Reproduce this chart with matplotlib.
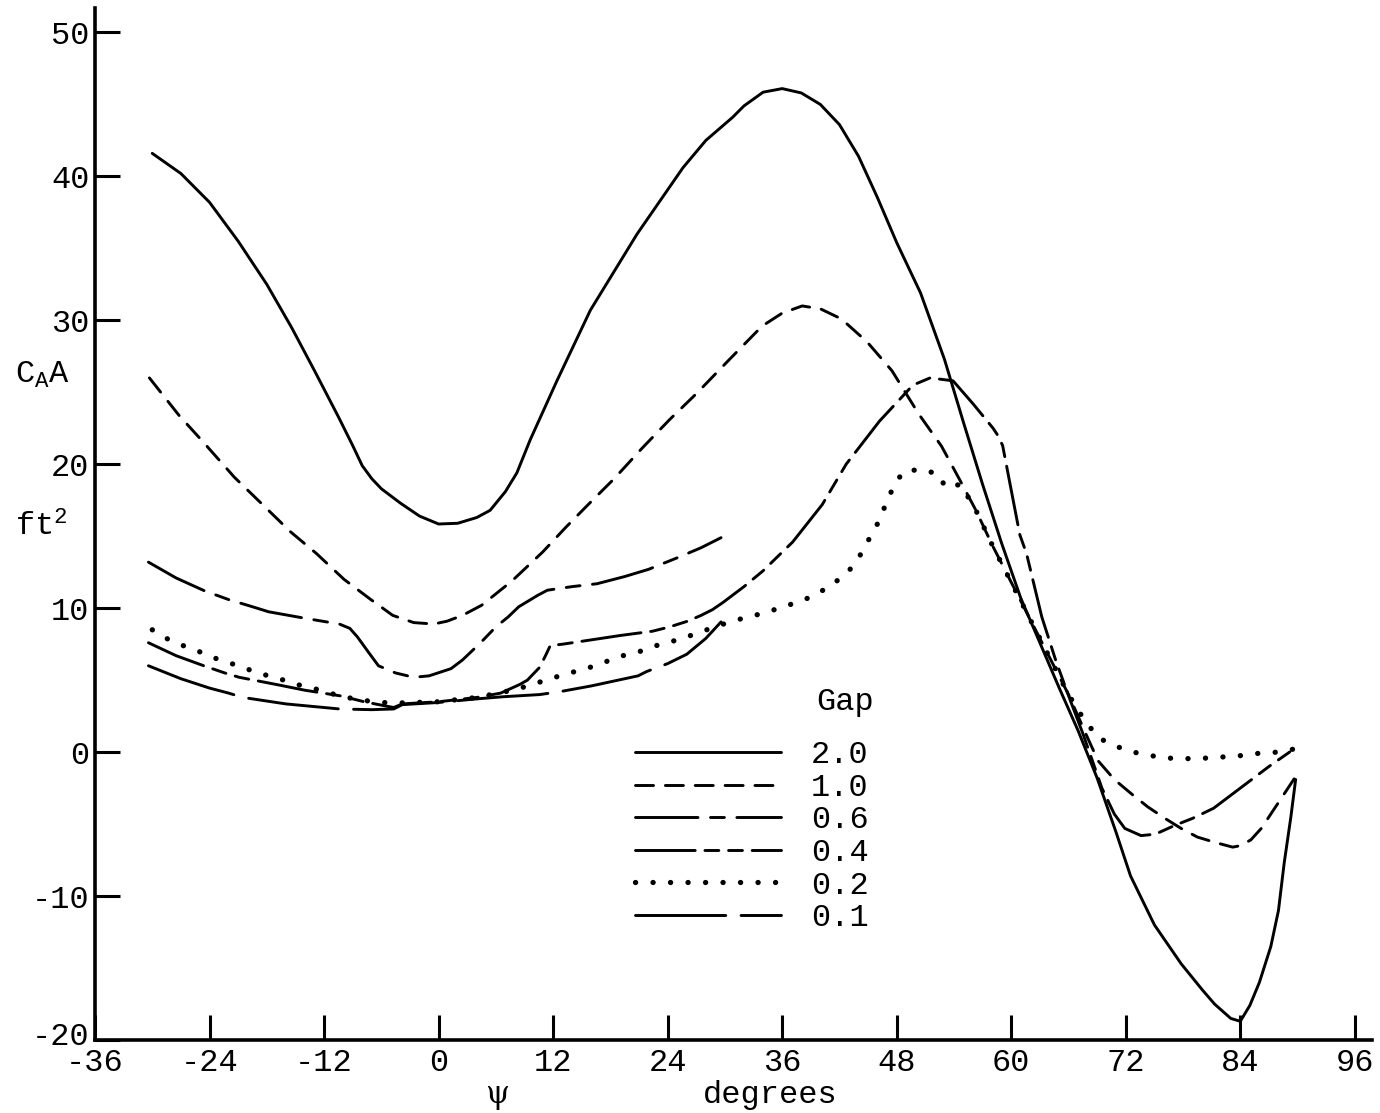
import matplotlib
matplotlib.use("Agg")
import matplotlib.pyplot as plt
from matplotlib.transforms import ScaledTranslation

matplotlib.rcParams.update({'font.size': 23,
                            'font.family': 'Liberation Mono',
                            'axes.unicode_minus': False,
                            'lines.scale_dashes': False,
                            'mathtext.fontset': 'custom',
                            'mathtext.tt': 'Liberation Mono',
                            'mathtext.rm': 'Liberation Mono'})

# -----------------------------------------------------------#
# Data (psi in degrees, CA*A in ft^2)
# -----------------------------------------------------------#
psi_20 = [-30, -27, -24, -21, -18, -15.4, -13, -10.5, -9, -8, -7, -6, -5, -4, -2, 0, 2, 4, 5.4, 7,
          8.2, 9.6, 12.4, 15.9, 20.8, 25.6, 28, 30.8, 32, 34, 36, 38, 40, 42, 44, 46, 48, 50.5, 53,
          55, 57, 59, 61, 63, 65, 67, 69, 71, 72.5, 75, 77.8, 80, 81.3, 83, 84, 85, 86, 87.2, 88,
          88.6, 89.3, 89.8]
ca_20 = [41.6, 40.2, 38.2, 35.5, 32.5, 29.5, 26.5, 23.3, 21.3, 19.9, 19.0, 18.3, 17.8, 17.3, 16.4,
         15.85, 15.9, 16.3, 16.8, 18.1, 19.4, 21.7, 25.8, 30.7, 36.0, 40.6, 42.5, 44.1, 44.9, 45.85,
         46.1, 45.8, 45.0, 43.6, 41.4, 38.5, 35.4, 31.9, 27.3, 22.9, 18.6, 14.5, 10.7, 7.6, 4.5,
         1.5, -1.8, -5.6, -8.6, -12.0, -14.7, -16.5, -17.5, -18.5, -18.7, -17.6, -16.0, -13.5,
         -11.0, -7.7, -4.5, -1.9]

psi_10 = [-30.3, -27.2, -24.6, -21.4, -18.6, -15.5, -12.8, -9.9, -7.1, -4.8, -2.6, -0.5, 0.9, 2.5,
          4.5, 7.7, 10.9, 13.3, 15.6, 18.4, 21.3, 24.2, 27.0, 30.5, 33.9, 36, 38.1, 40, 42.2, 44.9,
          47.5, 50.3, 52.7, 54.7, 56.3, 58, 60, 62, 64, 66, 68, 69.1, 70.8, 72.6, 74.3, 76.1, 77.8,
          79.5, 81.5, 83.2, 84, 85.1, 86.2, 87.2, 88.5, 89.8]
ca_10 = [26.0, 23.4, 21.5, 19.1, 17.3, 15.3, 13.8, 12.0, 10.6, 9.5, 9.0, 8.9, 9.1, 9.5, 10.2, 11.9,
         13.9, 15.6, 17.15, 19.0, 21.1, 23.1, 24.9, 27.3, 29.6, 30.5, 31.0, 30.8, 30.1, 28.5, 26.5,
         23.5, 21.25, 18.8, 16.8, 14.4, 11.8, 9.2, 6.6, 4.0, 1.0, -0.6, -1.9, -2.9, -3.8, -4.6,
         -5.3, -5.9, -6.3, -6.6, -6.5, -6.1, -5.3, -4.3, -3.0, -1.7]

psi_06 = [-30.4, -27.5, -24.5, -22, -19.5, -17.8, -14, -10.4, -9.3, -8.5, -7.3, -6.3, -4.5, -2.6,
          -1, 1.3, 2.5, 4.4, 6, 7.3, 8.4, 10.4, 11.4, 14, 16.6, 19.5, 22, 25, 27.5, 29.6]
ca_06 = [13.2, 12.1, 11.2, 10.6, 10.1, 9.75, 9.3, 8.9, 8.6, 8.0, 6.9, 6.0, 5.5, 5.2, 5.3, 5.8, 6.4,
         7.6, 8.7, 9.4, 10.1, 10.9, 11.25, 11.5, 11.7, 12.2, 12.7, 13.5, 14.2, 14.9]

psi_04 = [-30.4, -27.5, -24.6, -22.4, -20.9, -17, -14, -10.2, -7.8, -5.5, -4.7, -3.8, 0, 4, 6.5,
          7.5, 8.5, 9.3, 10.6, 11.2, 11.7, 13, 16, 19, 22.4, 24.2, 26.1, 27.5, 28.7, 29.8, 32, 34,
          35.7, 37.1, 40.2, 42.7, 46.2, 49.7, 51.5, 53.9, 56, 58.1, 58.6, 59.1, 60.9, 61.6, 63.2,
          64.7, 66.3, 67.5, 68.4, 69.5, 70.8, 71.9, 73.6, 75.1, 77.1, 79, 81.2, 84, 87, 89.8]
ca_04 = [7.6, 6.7, 6.0, 5.5, 5.2, 4.7, 4.3, 3.9, 3.5, 3.2, 3.1, 3.35, 3.5, 3.8, 4.1, 4.4, 4.7, 5.0,
         5.9, 6.7, 7.4, 7.5, 7.8, 8.1, 8.4, 8.7, 9.1, 9.5, 9.9, 10.4, 11.5, 12.6, 13.7, 14.6, 17.2,
         20.0, 23.0, 25.5, 26.0, 25.8, 24.2, 22.5, 22.0, 21.3, 15.1, 13.8, 9.4, 6.3, 3.4, 1.3,
         -0.4, -2.5, -4.3, -5.3, -5.8, -5.7, -5.1, -4.6, -3.9, -2.5, -1.0, 0.3]

psi_02 = [-30, -28.8, -27.6, -25.5, -23.3, -21, -18.9, -16.7, -14.3, -12.3, -10.4, -8, -5, 0, 4, 7,
          9.4, 11.2, 12.7, 14.3, 15.9, 17.6, 19.3, 21.1, 22.8, 24.5, 26.4, 28.1, 30.3, 31.9, 33.7,
          35.7, 37.5, 39.1, 41.2, 43, 44.1, 45.1, 46.1, 46.9, 47.7, 48.7, 50.6, 52.4, 53.1, 54.7,
          56.3, 58, 60, 62, 64, 66, 67.5, 69.1, 71, 72.8, 75.9, 77.8, 79.7, 81.6, 83.4, 85.6, 87.9,
          89.5]
ca_02 = [8.5, 8.0, 7.6, 7.1, 6.5, 6.0, 5.5, 5.1, 4.6, 4.3, 3.9, 3.6, 3.4, 3.5, 3.8, 4.2, 4.6, 5.0,
         5.3, 5.6, 5.9, 6.3, 6.7, 7.0, 7.4, 7.7, 8.1, 8.5, 9.0, 9.3, 9.6, 10.0, 10.4, 10.8, 11.6,
         12.6, 13.6, 14.8, 16.0, 17.3, 18.5, 19.5, 19.65, 19.3, 18.4, 18.6, 16.8, 14.4, 11.8, 9.2,
         6.6, 4.0, 2.4, 1.0, 0.4, 0.0, -0.4, -0.45, -0.45, -0.35, -0.3, -0.1, 0.0, 0.2]

psi_01 = [-30.4, -27, -24, -22, -20.5, -16, -12, -10.4, -7, -4.7, -3.8, 0, 4, 6.8, 10.6, 12.7, 16,
          20.9, 21.8, 24, 26, 28, 29.6]
ca_01 = [6.0, 5.1, 4.45, 4.1, 3.8, 3.35, 3.1, 3.0, 2.95, 3.0, 3.3, 3.45, 3.7, 3.85, 4.0, 4.2, 4.6,
         5.3, 5.6, 6.15, 6.8, 7.9, 9.05]

gap_labels = ["2.0", "1.0", "0.6", "0.4", "0.2", "0.1"]
x_ticks = [-36, -24, -12, 0, 12, 24, 36, 48, 60, 72, 84, 96]
y_ticks = [-20, -10, 0, 10, 20, 30, 40, 50]

# -----------------------------------------------------------#
# Figure
# -----------------------------------------------------------#
fig = plt.figure(figsize=(13.8, 11.13), dpi=100)
ax = fig.add_axes([95/1380, 1-1040/1113, (1372-95)/1380, (1040-8)/1113])

series = [(psi_20, ca_20), (psi_10, ca_10), (psi_06, ca_06),
          (psi_04, ca_04), (psi_02, ca_02), (psi_01, ca_01)]
styles = ['-', (0, (13, 8.5)), (0, (45, 9, 10, 9)), (0, (43, 7, 10, 7, 10, 7)),
          (0, (0.1, 12.5)), (0, (65, 11))]
widths = [2.1, 2.1, 2.1, 2.1, 3.8, 2.1]

for (xs, ys), ls, lw, lab in zip(series, styles, widths, gap_labels):
    ax.plot(xs, ys, color='black', linestyle=ls, linewidth=lw, label=lab,
            dash_capstyle='round', solid_capstyle='round', solid_joinstyle='round',
            dash_joinstyle='round')

ax.set_xlim(-36, 97.8)
ax.set_ylim(-20, 51.7)
ax.set_xticks(x_ticks)
ax.set_yticks(y_ticks)
ax.tick_params(direction='in', length=18, width=2.2, labelsize=23)
ax.tick_params(axis='x', pad=6)
ax.tick_params(axis='y', pad=4)
for s in ['top', 'right']:
    ax.spines[s].set_visible(False)
for s in ['left', 'bottom']:
    ax.spines[s].set_linewidth(2.6)

# lift the -20 label a little so it clears -36
lab20 = ax.yaxis.get_majorticklabels()[0]
lab20.set_transform(lab20.get_transform() + ScaledTranslation(0, 5/72, fig.dpi_scale_trans))

# legend
leg = ax.legend(loc='upper left', bbox_to_anchor=(20.6, 0.82), bbox_transform=ax.transData,
                frameon=False, handlelength=4.55, handletextpad=0.95, labelspacing=0.08,
                borderpad=0, borderaxespad=0, fontsize=23)
ax.text(45.6, 3.5, "Gap", ha='right', va='center', fontsize=23)

# axis labels
fig.text(15/1380, 1-375/1113, r'$\mathtt{C_AA}$', ha='left', va='center', fontsize=23)
fig.text(15/1380, 1-527/1113, r'$\mathtt{ft^2}$', ha='left', va='center', fontsize=23)
fig.text(497/1380, 1-1095/1113, 'ψ', ha='center', va='center', fontsize=22,
         family=['DejaVu Serif'])
fig.text(770/1380, 1-1095/1113, 'degrees', ha='center', va='center', fontsize=23)

fig.savefig("out.png", dpi=100)
